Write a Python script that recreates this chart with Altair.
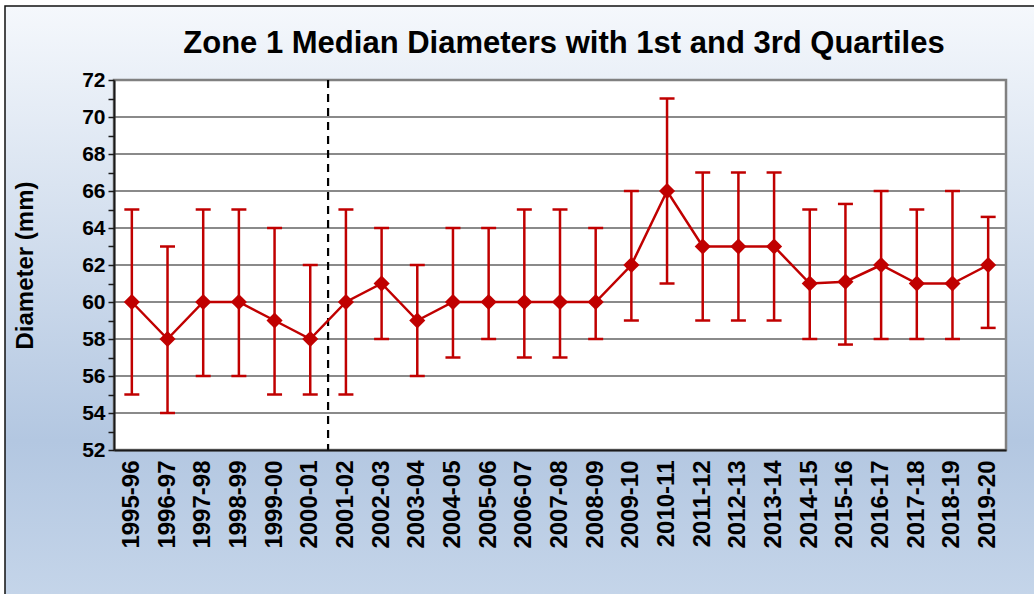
import altair as alt
import pandas as pd

title_text = ["Zone 1 Median Diameters with 1st and 3rd Quartiles"]
seasons = ["1995-96", "1996-97", "1997-98", "1998-99", "1999-00", "2000-01",
           "2001-02", "2002-03", "2003-04", "2004-05", "2005-06", "2006-07",
           "2007-08", "2008-09", "2009-10", "2010-11", "2011-12", "2012-13",
           "2013-14", "2014-15", "2015-16", "2016-17", "2017-18", "2018-19",
           "2019-20"]
median = [60, 58, 60, 60, 59, 58, 60, 61, 59, 60, 60, 60, 60, 60, 62, 66,
          63, 63, 63, 61, 61.1, 62, 61, 61, 62]
q1 = [55, 54, 56, 56, 55, 55, 55, 58, 56, 57, 58, 57, 57, 58, 59, 61,
      59, 59, 59, 58, 57.7, 58, 58, 58, 58.6]
q3 = [65, 63, 65, 65, 64, 62, 65, 64, 62, 64, 64, 65, 65, 64, 66, 71,
      67, 67, 67, 65, 65.3, 66, 65, 66, 64.6]
grid_values = [54, 56, 58, 60, 62, 64, 66, 68, 70]
y_ticks = list(range(52, 73))
divider_after = ["2000-01"]

df = pd.DataFrame({"season": seasons, "median": median, "q1": q1, "q3": q3})
grid_df = pd.DataFrame({"g": grid_values})
div_df = pd.DataFrame({"season": divider_after})
title_df = pd.DataFrame({"t": title_text})

W, H = 892, 370
RED = "#c00000"
FONT = "Liberation Sans"

xscale = alt.Scale(type="band", domain=seasons, paddingInner=0, paddingOuter=0)
yscale = alt.Scale(domain=[52, 72], nice=False, zero=False)

x_axis = alt.Axis(title=None, labelAngle=-90, labelFont=FONT,
                  labelFontSize=24, labelFontWeight="bold",
                  labelColor="black", labelPadding=10, ticks=False,
                  domainColor="#1a1a1a", domainWidth=2, zindex=1)
y_axis = alt.Axis(title="Diameter (mm)", values=y_ticks,
                  labelExpr="datum.value % 2 == 0 ? datum.label : ''",
                  labelOverlap=False,
                  labelFont=FONT, labelFontSize=21,
                  labelFontWeight="bold", labelColor="black",
                  labelPadding=3, tickSize=6, tickColor="#1a1a1a",
                  tickWidth=1.5, domainColor="#1a1a1a",
                  domainWidth=2, grid=False, titleFont=FONT,
                  titleFontSize=24, titleFontWeight="bold",
                  titleColor="black", titleX=-89,
                  titleBaseline="middle", zindex=1)


def xs(**kw):
    return alt.X("season:N", scale=xscale, sort=seasons, axis=x_axis, **kw)


def ys(field):
    return alt.Y(field, scale=yscale, axis=y_axis)


bg = alt.Chart(title_df).mark_rect(
    fill=alt.LinearGradient(gradient="linear", x1=0, y1=0, x2=0, y2=1,
                            stops=[alt.GradientStop(offset=0, color="#f5f8fc"),
                                   alt.GradientStop(offset=0.72, color="#b3c7e1"),
                                   alt.GradientStop(offset=1, color="#c6d6ea")]),
    stroke="#111111", strokeWidth=1.5
).encode(x=alt.value(-109), x2=alt.value(W + 40), y=alt.value(-74),
         y2=alt.value(H + 160))

plot_bg = alt.Chart(title_df).mark_rect(fill="white").encode(
    x=alt.value(0), x2=alt.value(W), y=alt.value(0), y2=alt.value(H))

grid = alt.Chart(grid_df).mark_rule(color="#8a8a8a", strokeWidth=2).encode(
    y=ys("g:Q"))

border = alt.Chart(title_df).mark_rect(
    fillOpacity=0, stroke="#808080", strokeWidth=2.5).encode(
    x=alt.value(0), x2=alt.value(W), y=alt.value(0), y2=alt.value(H))

title = alt.Chart(title_df).mark_text(
    font=FONT, fontSize=31, fontWeight="bold", color="black",
    align="center", baseline="alphabetic").encode(
    text="t:N", x=alt.value(W / 2 + 4), y=alt.value(-27))

divider = alt.Chart(div_df).mark_rule(
    color="black", strokeWidth=2.2, strokeDash=[8, 6]).encode(
    x=xs(bandPosition=1), y=alt.value(0), y2=alt.value(H))

bars = alt.Chart(df).mark_rule(color=RED, strokeWidth=2.5).encode(
    x=xs(), y=ys("q1:Q"), y2="q3:Q")

cap_lo = alt.Chart(df).mark_tick(color=RED, thickness=2.5, size=15,
                                 orient="horizontal", opacity=1).encode(
    x=xs(), y=ys("q1:Q"))
cap_hi = alt.Chart(df).mark_tick(color=RED, thickness=2.5, size=15,
                                 orient="horizontal", opacity=1).encode(
    x=xs(), y=ys("q3:Q"))

line = alt.Chart(df).mark_line(color=RED, strokeWidth=2.5).encode(
    x=xs(), y=ys("median:Q"))

pts = alt.Chart(df).mark_point(shape="diamond", filled=True, color=RED,
                               size=260, opacity=1).encode(
    x=xs(), y=ys("median:Q"))

chart = alt.layer(bg, plot_bg, grid, border, title, divider, bars, cap_lo,
                  cap_hi, line, pts).properties(
    width=W, height=H,
    autosize=alt.AutoSizeParams(type="none"),
    padding={"left": 114, "top": 80, "right": 28, "bottom": 144},
    background="white"
).configure_view(strokeWidth=0)

chart.save("out.html", embed_options={"renderer": "svg", "actions": False})
